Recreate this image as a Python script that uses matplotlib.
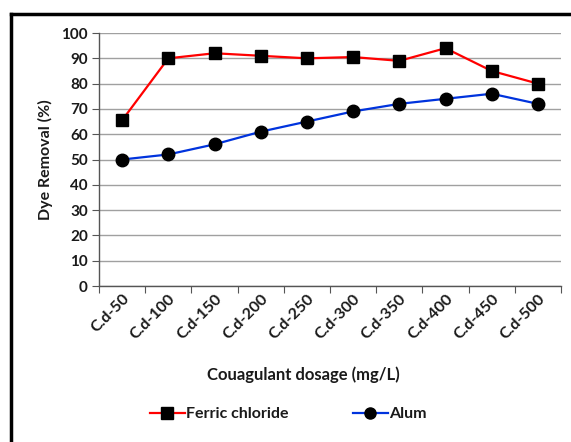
import matplotlib
matplotlib.use("Agg")
import matplotlib.pyplot as plt
from matplotlib.lines import Line2D
from matplotlib.transforms import ScaledTranslation

categories = ["C.d-50", "C.d-100", "C.d-150", "C.d-200", "C.d-250",
              "C.d-300", "C.d-350", "C.d-400", "C.d-450", "C.d-500"]
ferric = [65.5, 90, 92, 91, 90, 90.5, 89, 94, 85, 80]
alum = [50, 52, 56, 61, 65, 69, 72, 74, 76, 72]
yticks = [0, 10, 20, 30, 40, 50, 60, 70, 80, 90, 100]

plt.rcParams['font.family'] = ['Lato', 'DejaVu Sans']
txtc = '#1a1a1a'

fig = plt.figure(figsize=(5.71, 4.42), dpi=100)
ax = fig.add_axes([0.1734, 0.3529, 0.9825 - 0.1734, 0.9253 - 0.3529])

x = list(range(len(categories)))
ax.plot(x, ferric, color='#ff0000', lw=1.6, marker='s', ms=9,
        mfc='black', mec='black', label='Ferric chloride', zorder=3)
ax.plot(x, alum, color='#0033dd', lw=1.6, marker='o', ms=9,
        mfc='black', mec='black', label='Alum', zorder=3)

ax.set_xlim(-0.5, len(categories) - 0.5)
ax.set_ylim(0, 100)
ax.set_yticks(yticks)
ax.set_yticklabels([str(v) for v in yticks], fontsize=11, fontweight='bold', color=txtc)
ax.set_xticks([i - 0.5 for i in range(len(categories) + 1)], minor=False)
ax.set_xticklabels([])
ax.set_xticks(x, minor=True)
ax.set_xticklabels(categories, minor=True, rotation=45, ha='right',
                   rotation_mode='anchor', fontsize=11.5, fontweight='bold', color=txtc)
off = ScaledTranslation(6 / 100, 0, fig.dpi_scale_trans)
for lab in ax.get_xticklabels(minor=True):
    lab.set_transform(lab.get_transform() + off)
ax.tick_params(axis='x', which='minor', length=0, pad=4)
ax.tick_params(axis='x', which='major', length=5, color='#555555')
ax.tick_params(axis='y', length=5, color='#555555', pad=3)

ax.grid(axis='y', color='#a0a0a0', lw=1)
ax.set_axisbelow(True)
for s in ['top', 'right']:
    ax.spines[s].set_visible(False)
for s in ['left', 'bottom']:
    ax.spines[s].set_color('#555555')
    ax.spines[s].set_linewidth(1)

ax.set_ylabel('Dye Removal (%)', fontsize=11.5, fontweight='bold', color=txtc, labelpad=6)
fig.text(0.532, 1 - 375 / 442, 'Couagulant dosage (mg/L)', ha='center', va='center',
         fontsize=12, fontweight='bold', color=txtc)

handles = [Line2D([], [], color='#ff0000', lw=1.6, marker='s', ms=8, mfc='black', mec='black'),
           Line2D([], [], color='#0033dd', lw=1.6, marker='o', ms=8, mfc='black', mec='black')]
leg = fig.legend(handles, ['Ferric chloride', 'Alum'], loc='center',
                 bbox_to_anchor=(0.505, 1 - 414 / 442), ncol=2, frameon=False,
                 prop={'size': 11.5, 'weight': 'bold'}, handlelength=2.2,
                 handletextpad=0.1, columnspacing=4.0)
for t in leg.get_texts():
    t.set_color(txtc)

# outer chart frame (top and left visible)
fig.add_artist(Line2D([11 / 571, 1.0], [1 - 14 / 442, 1 - 14 / 442],
                      transform=fig.transFigure, color='black', lw=2.5))
fig.add_artist(Line2D([11 / 571, 11 / 571], [0, 1 - 14 / 442],
                      transform=fig.transFigure, color='black', lw=2.5))

fig.savefig('out.png', dpi=100)
